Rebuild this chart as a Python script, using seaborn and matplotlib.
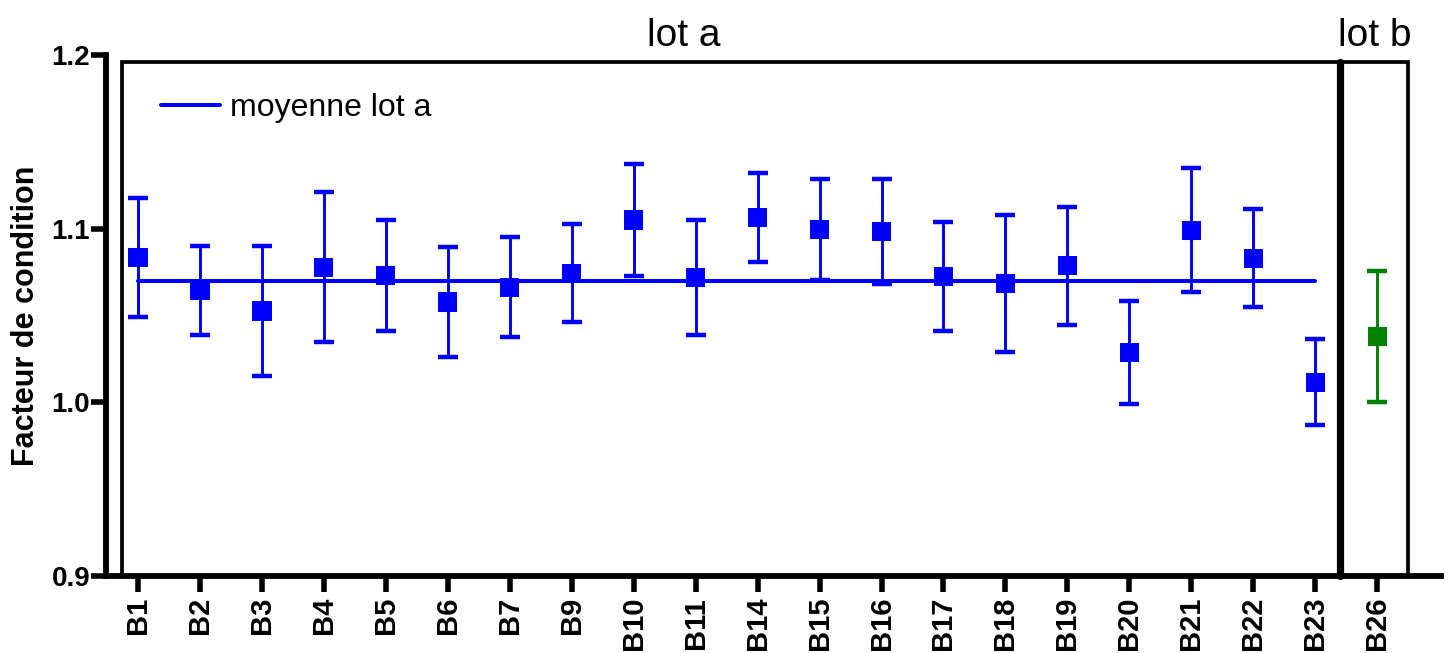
import matplotlib
matplotlib.use("Agg")
import matplotlib.pyplot as plt
import matplotlib.transforms as mtransforms
from matplotlib.patches import Rectangle
from matplotlib.lines import Line2D
import seaborn as sns
import numpy as np
import pandas as pd

# ---------------- data ----------------
categories = ["B1", "B2", "B3", "B4", "B5", "B6", "B7", "B9", "B10", "B11",
              "B14", "B15", "B16", "B17", "B18", "B19", "B20", "B21", "B22",
              "B23", "B26"]
means = [1.0832, 1.0645, 1.0526, 1.0778, 1.0730, 1.0578, 1.0663, 1.0743,
         1.1050, 1.0718, 1.1064, 1.0995, 1.0984, 1.0724, 1.0682, 1.0786,
         1.0286, 1.0990, 1.0829, 1.0116, 1.0379]
errors = [0.0343, 0.0257, 0.0374, 0.0432, 0.0320, 0.0315, 0.0289, 0.0282,
          0.0320, 0.0332, 0.0258, 0.0289, 0.0300, 0.0315, 0.0394, 0.0339,
          0.0296, 0.0357, 0.0282, 0.0248, 0.0375]
lots = ["a"] * 20 + ["b"]
mean_lot_a = 1.07
yticks = [0.9, 1.0, 1.1, 1.2]
ytick_labels = ["0.9", "1.0", "1.1", "1.2"]
lot_titles = {"a": "lot a", "b": "lot b"}
legend_label = "moyenne lot a"
ylabel = "Facteur de condition"

colors = {"a": "#0000FF", "b": "#008000"}

# ---------------- style ----------------
sns.set_theme(style="white")
plt.rcParams['font.family'] = ['Liberation Sans', 'DejaVu Sans']
plt.rcParams['text.color'] = 'black'
plt.rcParams['axes.labelcolor'] = 'black'
plt.rcParams['xtick.color'] = 'black'
plt.rcParams['ytick.color'] = 'black'

W, H = 1451, 653
fig = plt.figure(figsize=(W / 100, H / 100), dpi=100)
ax = fig.add_axes([106 / W, 77 / H, 1335 / W, 521 / H])

df = pd.DataFrame({"cat": categories, "x": np.arange(len(categories)),
                   "mean": means, "err": errors, "lot": lots})

# error bars
for lot, sub in df.groupby("lot"):
    ax.errorbar(sub["x"], sub["mean"], yerr=sub["err"], fmt="none",
                ecolor=colors[lot], elinewidth=2.1, capsize=7.2,
                capthick=3.2, zorder=3, clip_on=False)

# markers
sns.scatterplot(data=df, x="x", y="mean", hue="lot", palette=colors,
                marker="s", s=190, linewidth=0, legend=False, ax=ax,
                zorder=4, clip_on=False)

# mean line for lot a
sub_a = df[df["lot"] == "a"]
sns.lineplot(x=[sub_a["x"].min(), sub_a["x"].max()], y=[mean_lot_a, mean_lot_a],
             color=colors["a"], linewidth=2.9, ax=ax, zorder=2)

# axes limits / ticks
ax.set_xlim(-0.517, 21.03)
ax.set_ylim(0.9, 1.2)
ax.set_xticks(df["x"])
ax.set_xticklabels(categories, rotation=90, fontsize=21, fontweight="bold",
                   color="black")
ax.set_yticks(yticks)
ax.set_yticklabels(ytick_labels, fontsize=20, fontweight="bold", color="black")
ax.tick_params(axis="x", direction="out", length=11.5, width=4, pad=3.5,
               bottom=True, colors="black")
ax.tick_params(axis="y", direction="out", length=10.5, width=4, pad=1,
               left=True, colors="black")
ax.set_xlabel("")
ax.set_ylabel(ylabel, fontsize=22, fontweight="bold", color="black")
ax.yaxis.set_label_coords(-0.049, 0.5)

for s in ["top", "right"]:
    ax.spines[s].set_visible(False)
for s in ["left", "bottom"]:
    ax.spines[s].set_linewidth(4.2)
    ax.spines[s].set_color("black")

# group boxes
first_a = sub_a["x"].min()
last_a = sub_a["x"].max()
last_b = df["x"].max()
box_left = first_a - 0.258
divider = last_a + 0.40
box_right = last_b + 0.505
box_top = 1.196
ax.add_patch(Rectangle((box_left, 0.9), divider - box_left, box_top - 0.9,
                       fill=False, edgecolor="black", linewidth=2.7,
                       clip_on=False, zorder=1))
ax.add_patch(Rectangle((divider, 0.9), box_right - divider, box_top - 0.9,
                       fill=False, edgecolor="black", linewidth=2.7,
                       clip_on=False, zorder=1))
ax.plot([divider, divider], [0.9, box_top], color="black", linewidth=5.2,
        clip_on=False, zorder=1)

# group titles
trans = mtransforms.blended_transform_factory(ax.transData, ax.transAxes)
ax.text(8.8, 1.018, lot_titles["a"], transform=trans, ha="center",
        va="baseline", fontsize=28, color="black")
ax.text(19.96, 1.018, lot_titles["b"], transform=trans, ha="center",
        va="baseline", fontsize=28, color="black")

# legend
handle = Line2D([], [], color=colors["a"], linewidth=2.9)
leg = ax.legend(handles=[handle], labels=[legend_label], loc="center left",
                bbox_to_anchor=(0.0412, 0.898), frameon=False, fontsize=23,
                handlelength=1.85, handletextpad=0.3, borderpad=0,
                borderaxespad=0, labelcolor="black")

fig.savefig("out.png", dpi=100, facecolor="white")
